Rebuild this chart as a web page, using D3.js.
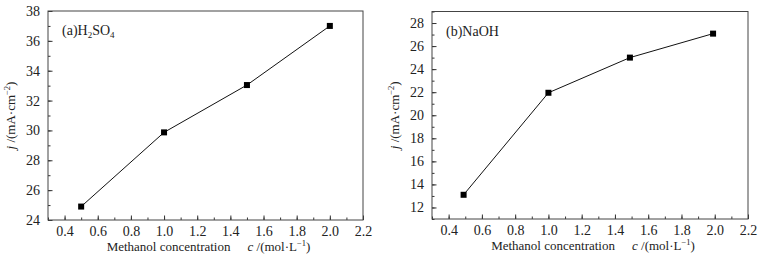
<!DOCTYPE html>
<html>
<head>
<meta charset="utf-8">
<script src="https://cdn.jsdelivr.net/npm/d3@7"></script>
<style>
  body { margin: 0; background: #fff; }
  svg text { font-family: "Liberation Serif", "Times New Roman", serif; fill: #222; }
</style>
</head>
<body>
<div id="chart"></div>
<script>
// data
var concA = [0.5, 1.0, 1.5, 2.0];
var currentA = [24.9, 29.87, 33.04, 37.0];
var concB = [0.49, 1.0, 1.49, 1.99];
var currentB = [13.1, 21.95, 25.0, 27.08];

var xTicks = [0.4, 0.6, 0.8, 1.0, 1.2, 1.4, 1.6, 1.8, 2.0, 2.2];
var yTicksA = [24, 26, 28, 30, 32, 34, 36, 38];
var yTicksB = [12, 14, 16, 18, 20, 22, 24, 26, 28];

var svg = d3.select("#chart")
    .append("svg")
    .attr("width", 774)
    .attr("height", 257);

// draws one panel
function drawPanel(opt) {
    var g = svg.append("g")
        .attr("transform", "translate(" + opt.left + "," + opt.top + ")");
    var w = opt.width, h = opt.height;

    var x = d3.scaleLinear().domain([0.3, 2.2]).range([0, w]);
    var y = d3.scaleLinear().domain(opt.yDomain).range([h, 0]);

    // minor ticks
    g.append("g")
        .attr("transform", "translate(0," + h + ")")
        .call(d3.axisBottom(x).tickValues(d3.range(0.3, 2.21, 0.1)).tickSize(-2.5).tickFormat(""))
        .call(function (a) { a.select(".domain").remove(); });
    g.append("g")
        .call(d3.axisLeft(y).tickValues(d3.range(opt.yDomain[0], opt.yDomain[1] + 0.01, 1)).tickSize(-2.5).tickFormat(""))
        .call(function (a) { a.select(".domain").remove(); });

    // major ticks with labels
    var xa = g.append("g")
        .attr("class", "xaxis")
        .attr("transform", "translate(0," + h + ")")
        .call(d3.axisBottom(x).tickValues(xTicks).tickSize(-4.5).tickPadding(6).tickFormat(d3.format(".1f")));
    var ya = g.append("g")
        .attr("class", "yaxis")
        .call(d3.axisLeft(y).tickValues(opt.yTicks).tickSize(-4.5).tickPadding(8).tickFormat(d3.format("d")));
    [xa, ya].forEach(function (a) {
        a.attr("font-family", "Liberation Serif, serif").attr("font-size", null);
        a.select(".domain").remove();
        a.selectAll("text").style("font-size", "14px").attr("fill", "#222");
    });
    g.selectAll(".tick line").attr("stroke", "#333");

    // frame
    g.append("rect")
        .attr("width", w)
        .attr("height", h)
        .attr("fill", "none")
        .attr("stroke", "#444")
        .attr("stroke-width", 1);

    var pts = opt.xs.map(function (d, i) { return [d, opt.ys[i]]; });

    g.append("path")
        .datum(pts)
        .attr("fill", "none")
        .attr("stroke", "#111")
        .attr("stroke-width", 1)
        .attr("d", d3.line().x(function (d) { return x(d[0]); }).y(function (d) { return y(d[1]); }));

    g.selectAll(".pt")
        .data(pts)
        .enter()
        .append("rect")
        .attr("class", "pt")
        .attr("x", function (d) { return x(d[0]) - 3; })
        .attr("y", function (d) { return y(d[1]) - 3; })
        .attr("width", 6)
        .attr("height", 6)
        .attr("fill", "#000");

    // panel label
    var lab = g.append("text")
        .attr("x", 14)
        .attr("y", 24)
        .style("font-size", "14px");
    opt.label(lab);

    // y label
    var yl = g.append("text")
        .attr("text-anchor", "middle")
        .attr("transform", "translate(" + (-33) + "," + (h / 2) + ") rotate(-90)")
        .style("font-size", "13px");
    yl.append("tspan").style("font-style", "italic").text("j");
    yl.append("tspan").text(" /(mA·cm");
    yl.append("tspan").attr("dy", -5).style("font-size", "8.5px").text("−2");
    yl.append("tspan").attr("dy", 5).text(")");

    // x label
    var xl = g.append("text")
        .attr("text-anchor", "middle")
        .attr("x", w / 2 + 3)
        .attr("y", h + 31)
        .style("font-size", "13px");
    xl.append("tspan").text("Methanol concentration");
    xl.append("tspan").attr("dx", 17).style("font-style", "italic").text("c");
    xl.append("tspan").text(" /(mol·L");
    xl.append("tspan").attr("dy", -5).style("font-size", "8.5px").text("−1");
    xl.append("tspan").attr("dy", 5).text(")");
}

drawPanel({
    left: 48, top: 11, width: 315, height: 209,
    yDomain: [24, 38], yTicks: yTicksA,
    xs: concA, ys: currentA,
    label: function (t) {
        t.append("tspan").text("(a)H");
        t.append("tspan").attr("dy", 3).style("font-size", "9px").text("2");
        t.append("tspan").attr("dy", -3).text("SO");
        t.append("tspan").attr("dy", 3).style("font-size", "9px").text("4");
    }
});

drawPanel({
    left: 432, top: 11.5, width: 316, height: 207.5,
    yDomain: [11, 29], yTicks: yTicksB,
    xs: concB, ys: currentB,
    label: function (t) {
        t.text("(b)NaOH");
    }
});
</script>
</body>
</html>
